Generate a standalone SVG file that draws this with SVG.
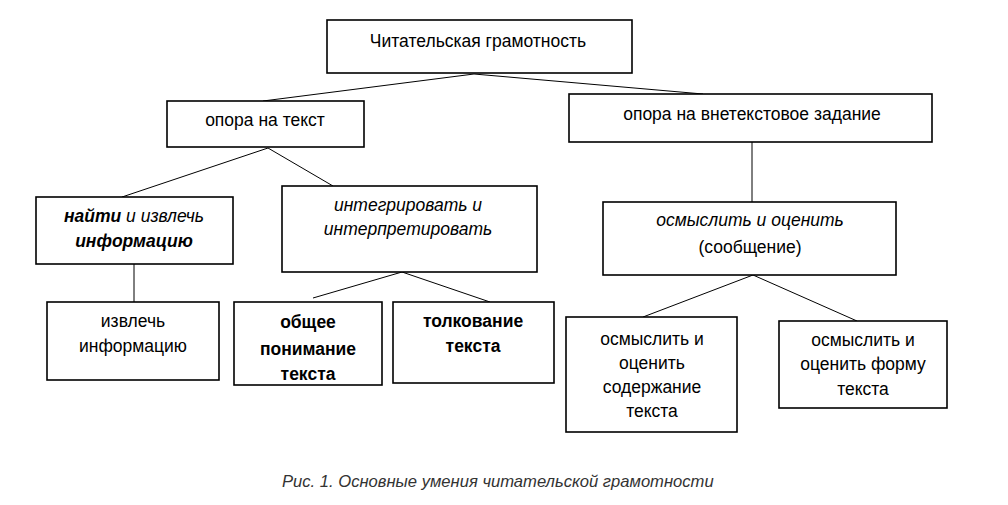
<svg xmlns="http://www.w3.org/2000/svg" width="1008" height="505" viewBox="0 0 1008 505">
<style>
.box{fill:#fff;stroke:#000;stroke-width:1.6}
.ln{stroke:#000;stroke-width:1;fill:none}
text{font-family:"Liberation Sans",Arial,sans-serif;font-size:17.5px;fill:#000;text-anchor:middle}
.i{font-style:italic}
.b{font-weight:bold}
.cap{font-size:16.6px;font-style:italic;fill:#333;text-anchor:start}
</style>
<rect width="1008" height="505" fill="#fff"/>
<g id="connectors">
<line class="ln" x1="474" y1="74" x2="263" y2="101"/>
<line class="ln" x1="474" y1="74" x2="703" y2="94"/>
<line class="ln" x1="268" y1="148" x2="122" y2="197"/>
<line class="ln" x1="268" y1="148" x2="333" y2="186"/>
<line class="ln" x1="134" y1="264" x2="134" y2="302"/>
<line class="ln" x1="402" y1="272" x2="313" y2="298"/>
<line class="ln" x1="402" y1="272" x2="490" y2="302"/>
<line class="ln" x1="752" y1="142" x2="752" y2="202"/>
<line class="ln" x1="753" y1="275" x2="643" y2="317"/>
<line class="ln" x1="753" y1="275" x2="857" y2="321"/>
</g>
<g id="n-root">
<rect class="box" x="327" y="20" width="305" height="53"/>
<text x="478" y="47">Читательская грамотность</text>
</g>
<g id="n-text">
<rect class="box" x="167" y="101" width="197" height="46"/>
<text x="265" y="126">опора на текст</text>
</g>
<g id="n-extra">
<rect class="box" x="569" y="94" width="363" height="48"/>
<text x="752" y="120">опора на внетекстовое задание</text>
</g>
<g id="n-find">
<rect class="box" x="36" y="197" width="197" height="67"/>
<text x="134" y="222" class="i"><tspan class="b">найти</tspan> и извлечь</text>
<text x="134" y="247" class="i b">информацию</text>
</g>
<g id="n-integr">
<rect class="box" x="282" y="186" width="255" height="86"/>
<text x="408" y="211" class="i">интегрировать и</text>
<text x="408" y="235" class="i">интерпретировать</text>
</g>
<g id="n-reflect">
<rect class="box" x="603" y="202" width="293" height="73"/>
<text x="750" y="226" class="i">осмыслить и оценить</text>
<text x="750" y="253">(сообщение)</text>
</g>
<g id="n-extract">
<rect class="box" x="47" y="302" width="172" height="78"/>
<text x="133" y="327">извлечь</text>
<text x="133" y="352">информацию</text>
</g>
<g id="n-general">
<rect class="box" x="234" y="302" width="148" height="83"/>
<text x="308" y="328" class="b">общее</text>
<text x="308" y="355" class="b">понимание</text>
<text x="308" y="380" class="b">текста</text>
</g>
<g id="n-interp">
<rect class="box" x="393" y="302" width="161" height="81"/>
<text x="473" y="327" class="b">толкование</text>
<text x="473" y="352" class="b">текста</text>
</g>
<g id="n-content">
<rect class="box" x="566" y="317" width="171" height="115"/>
<text x="652" y="345">осмыслить и</text>
<text x="652" y="369">оценить</text>
<text x="652" y="393">содержание</text>
<text x="652" y="417">текста</text>
</g>
<g id="n-form">
<rect class="box" x="779" y="321" width="168" height="87"/>
<text x="863" y="346">осмыслить и</text>
<text x="863" y="370">оценить форму</text>
<text x="863" y="395">текста</text>
</g>
<text class="cap" x="282" y="487">Рис. 1. Основные умения читательской грамотности</text>
</svg>
